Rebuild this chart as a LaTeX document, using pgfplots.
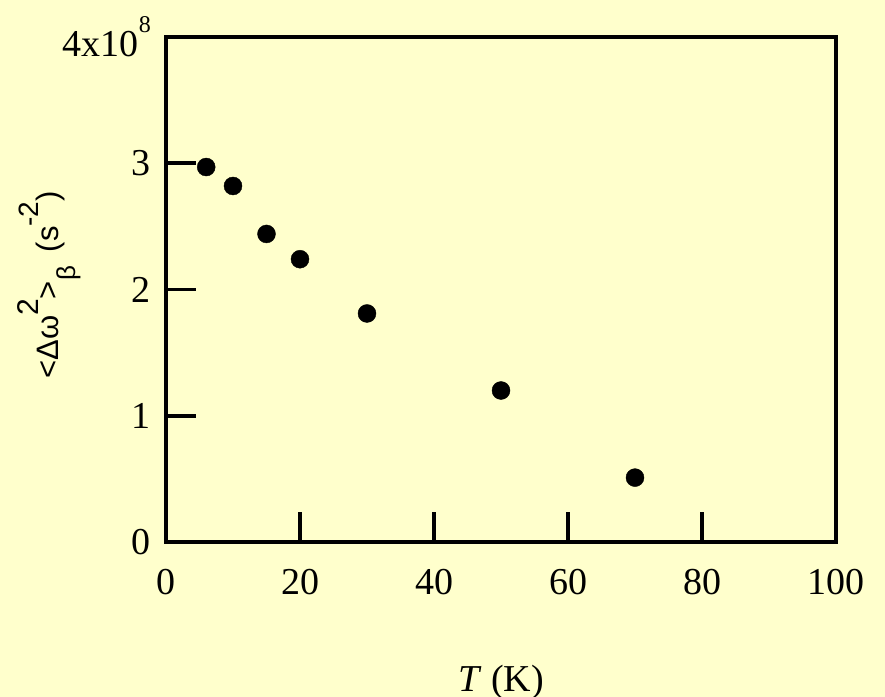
\documentclass[border=0pt]{standalone}
\usepackage{pgfplots}
\pgfplotsset{compat=1.18}
\usepackage{fontspec}
\setmainfont{Liberation Serif}
\setsansfont{Liberation Sans}
\definecolor{bg}{HTML}{FFFFCC}
\begin{document}
\begin{tikzpicture}
\fill[bg] (-166bp,-155bp) rectangle (719bp,542bp);
\path[use as bounding box] (-166bp,-155bp) rectangle (719bp,542bp);
\begin{axis}[
  scale only axis, width=670bp, height=505bp,
  xmin=0, xmax=100, ymin=0, ymax=4,
  xtick={0,20,40,60,80,100},
  xticklabels={0,20,40,60,80,100},
  ytick={0,1,2,3,4},
  yticklabels={0,1,2,3,{4x10\raisebox{24bp}{\fontsize{24bp}{24bp}\selectfont 8}}},
  tick pos=left, tick align=inside,
  major tick length=30bp,
  axis line style={line width=3.5bp, black},
  every tick/.style={black, line width=3.5bp},
  tick label style={font=\fontsize{38bp}{44bp}\selectfont, inner sep=0pt},
  xticklabel style={anchor=north, yshift=-27bp},
  yticklabel style={anchor=east, xshift=-15bp},
  xlabel={\fontsize{38bp}{44bp}\selectfont\textit{T} (K)},
  xlabel style={at={(axis description cs:0.5,-0.297)}, anchor=base},
  ylabel={\sffamily\fontsize{31bp}{34bp}\selectfont <Δω\raisebox{20bp}{\fontsize{30bp}{30bp}\selectfont 2}>\raisebox{-17bp}{\fontsize{26bp}{26bp}\selectfont β}\, (s\raisebox{20bp}{\fontsize{28bp}{28bp}\selectfont -2})},
  ylabel style={at={(axis description cs:-0.161,0.509)}, anchor=base},
]
\addplot[only marks, mark=*, mark size=9bp, black] coordinates {
  (6,2.97) (10,2.82) (15,2.44) (20,2.24) (30,1.81) (50,1.20) (70,0.51)
};
\end{axis}
\end{tikzpicture}
\end{document}
